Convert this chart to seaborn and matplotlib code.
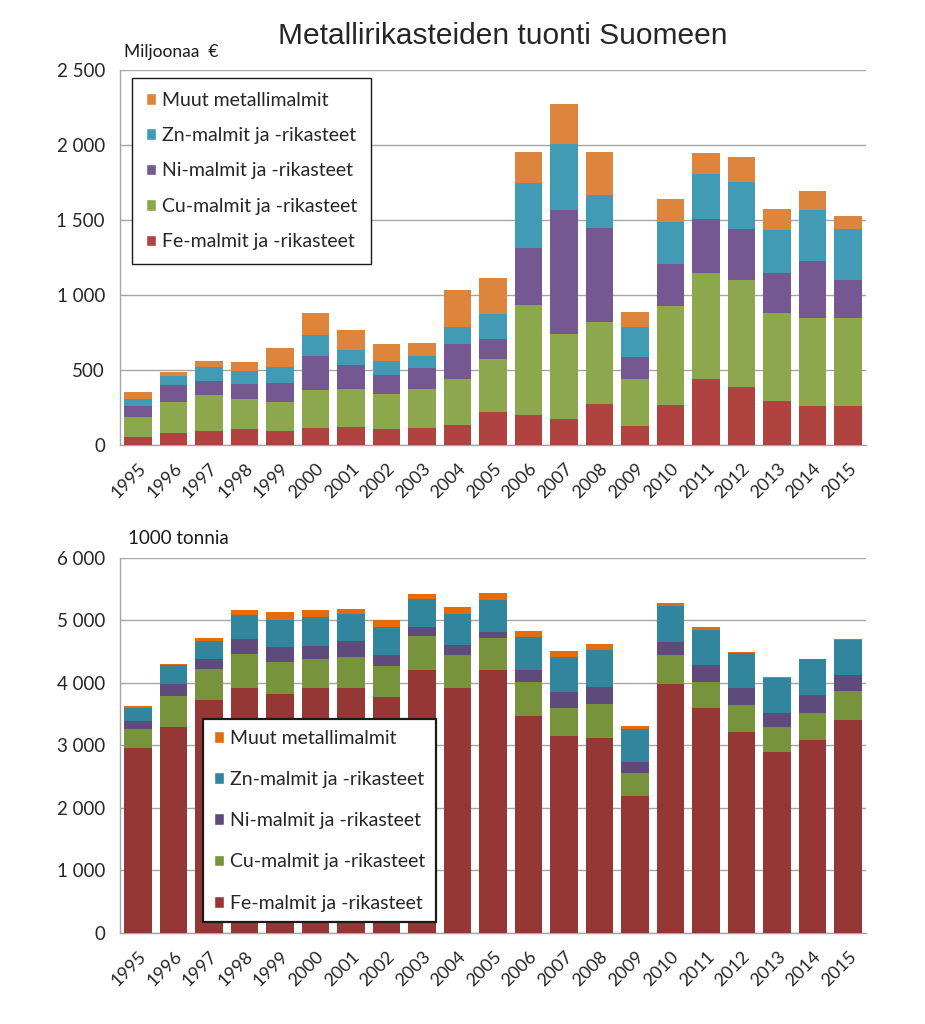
"""
Metallirikasteiden tuonti Suomeen 1995-2015: arvo (milj. EUR) ja maara (1000 t).
Pinotut pylvaat piirretaan seabornilla kumulatiivisista summista.
"""
import numpy as np
import matplotlib
matplotlib.use("Agg")
import matplotlib.pyplot as plt
from matplotlib.patches import Patch
from matplotlib.ticker import FuncFormatter, FixedLocator
import seaborn as sns

YEARS = ["1995", "1996", "1997", "1998", "1999", "2000", "2001", "2002", "2003", "2004",
         "2005", "2006", "2007", "2008", "2009", "2010", "2011", "2012", "2013", "2014", "2015"]

SERIES = ["Fe-malmit ja -rikasteet", "Cu-malmit ja -rikasteet", "Ni-malmit ja -rikasteet",
          "Zn-malmit ja -rikasteet", "Muut metallimalmit"]

# Miljoonaa euroa
FE_EUR = [56, 78, 96, 109, 96, 116, 122, 109, 113, 131, 218, 200, 176, 276, 129, 269, 440, 384, 291, 262, 262]
CU_EUR = [133, 206, 237, 195, 193, 251, 249, 229, 260, 312, 358, 731, 564, 542, 313, 660, 707, 716, 589, 587, 585]
NI_EUR = [71, 118, 96, 103, 124, 229, 165, 131, 138, 232, 131, 382, 827, 626, 147, 275, 362, 342, 269, 378, 255]
ZN_EUR = [47, 58, 93, 86, 107, 137, 100, 93, 85, 113, 164, 434, 437, 220, 195, 283, 295, 309, 287, 337, 336]
MUUT_EUR = [44, 29, 38, 58, 129, 149, 133, 111, 84, 245, 245, 209, 267, 287, 103, 155, 145, 171, 140, 127, 91]

# 1000 tonnia
FE_T = [2962, 3299, 3722, 3920, 3818, 3914, 3914, 3775, 4209, 3920, 4203, 3476, 3144, 3112, 2192, 3979, 3604, 3214, 2893, 3080, 3412]
CU_T = [300, 498, 497, 551, 519, 476, 503, 503, 550, 529, 519, 540, 460, 546, 369, 465, 412, 428, 396, 433, 460]
NI_T = [128, 187, 161, 240, 235, 209, 251, 177, 134, 166, 96, 192, 257, 283, 171, 219, 278, 283, 235, 300, 262]
ZN_T = [214, 305, 299, 380, 428, 454, 428, 433, 449, 490, 503, 525, 551, 588, 535, 562, 551, 556, 551, 567, 556]
MUUT_T = [27, 21, 38, 69, 128, 107, 91, 123, 75, 114, 112, 96, 96, 102, 48, 53, 43, 16, 16, 5, 16]

COLORS_EUR = ["#B0433F", "#8CA74C", "#755891", "#419BB4", "#DE853D"]
COLORS_T = ["#953735", "#77943D", "#5F4A7C", "#31869D", "#E46C0A"]

GRID = "#A6A6A6"
FONT = ["Lato", "DejaVu Sans"]


def thousands(v, pos):
    return f"{int(v):,}".replace(",", " ")


def stacked(ax, layers, colors):
    cum = np.cumsum(np.array(layers), axis=0)
    # draw the tallest first, each lower sum on top of it
    for i in range(len(layers) - 1, -1, -1):
        sns.barplot(x=YEARS, y=cum[i], color=colors[i], saturation=1, width=0.78,
                    ax=ax, zorder=3, edgecolor="none")


def style_axes(ax, ymax, step):
    ax.set_xlim(-0.5, len(YEARS) - 0.5)
    ax.set_ylim(0, ymax)
    ax.set_yticks(np.arange(0, ymax + 1, step))
    ax.yaxis.set_major_formatter(FuncFormatter(thousands))
    ax.grid(axis="y", color=GRID, linewidth=1, zorder=0)
    ax.grid(axis="x", visible=False)
    for s in ["top", "right"]:
        ax.spines[s].set_visible(False)
    for s in ["left", "bottom"]:
        ax.spines[s].set_color(GRID)
        ax.spines[s].set_linewidth(1)
    ax.tick_params(axis="y", length=5, color=GRID, labelsize=13.5, pad=6)
    ax.tick_params(axis="x", which="major", length=0, labelsize=13, pad=11)
    ax.xaxis.set_minor_locator(FixedLocator(np.arange(-0.5, len(YEARS), 1.0)))
    ax.tick_params(axis="x", which="minor", length=6, color=GRID)
    ax.set_xticks(range(len(YEARS)))
    ax.set_xticklabels(YEARS, rotation=45, ha="right", rotation_mode="anchor")
    for lbl in ax.get_xticklabels() + ax.get_yticklabels():
        lbl.set_family(FONT)
    ax.set_xlabel("")
    ax.set_ylabel("")


def legend(ax, colors, anchor, spacing, lw, pad):
    handles = [Patch(facecolor=colors[i], label=SERIES[i]) for i in range(len(SERIES) - 1, -1, -1)]
    leg = ax.legend(handles=handles, loc="upper left", bbox_to_anchor=anchor,
                    frameon=True, fancybox=False, framealpha=1, edgecolor="#1A1A1A",
                    prop={"family": FONT, "size": 14}, handlelength=0.55, handleheight=0.55,
                    handletextpad=0.3, labelspacing=spacing, borderpad=pad, borderaxespad=0)
    leg.get_frame().set_linewidth(lw)
    leg.set_zorder(5)


def main():
    sns.set_style("white")
    plt.rcParams["font.family"] = FONT

    fig = plt.figure(figsize=(9.25, 10.24), dpi=100)
    ax1 = fig.add_axes([0.130, 0.5654, 0.806, 0.3662])
    ax2 = fig.add_axes([0.130, 0.0889, 0.806, 0.3662])

    stacked(ax1, [FE_EUR, CU_EUR, NI_EUR, ZN_EUR, MUUT_EUR], COLORS_EUR)
    style_axes(ax1, 2500, 500)
    legend(ax1, COLORS_EUR, (0.016, 0.979), 0.95, 1.0, 0.7)

    stacked(ax2, [FE_T, CU_T, NI_T, ZN_T, MUUT_T], COLORS_T)
    style_axes(ax2, 6000, 1000)
    legend(ax2, COLORS_T, (0.111, 0.571), 1.25, 1.6, 0.55)

    fig.text(0.544, 0.965, "Metallirikasteiden tuonti Suomeen", ha="center", va="center",
             fontsize=21.5, family=["Liberation Sans", "DejaVu Sans"], color="#262626")
    fig.text(0.134, 0.949, "Miljoonaa  €", ha="left", va="center", fontsize=12.5, color="#1A1A1A")
    fig.text(0.138, 0.474, "1000 tonnia", ha="left", va="center", fontsize=13.5, color="#1A1A1A")

    fig.savefig("out.png", dpi=100)
    plt.close(fig)


if __name__ == "__main__":
    main()
